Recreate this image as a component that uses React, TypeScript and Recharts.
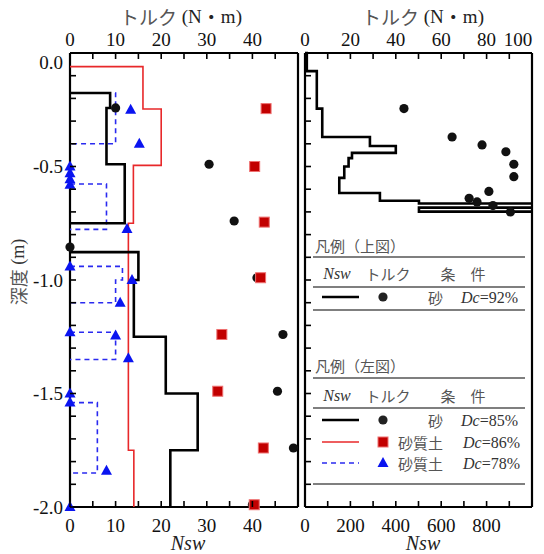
import React from 'react';
import { ComposedChart, Scatter, XAxis, YAxis } from 'recharts';

// 深度の目盛り
const depthTicks = [0, -0.1, -0.2, -0.3, -0.4, -0.5, -0.6, -0.7, -0.8, -0.9, -1, -1.1, -1.2, -1.3, -1.4, -1.5, -1.6, -1.7, -1.8, -1.9, -2];
const depthLabels = [0, -0.5, -1, -1.5, -2];

// 左図の目盛り (Nsw・トルク 共通)
const leftXTicks = [0, 5, 10, 15, 20, 25, 30, 35, 40, 45, 50];
const leftXLabels = [0, 10, 20, 30, 40];

// 右図の目盛り
const rightNswTicks = [0, 100, 200, 300, 400, 500, 600, 700, 800, 900, 1000];
const rightNswLabels = [0, 200, 400, 600, 800];
const rightTqTicks = [0, 10, 20, 30, 40, 50, 60, 70, 80, 90, 100];
const rightTqLabels = [0, 20, 40, 60, 80, 100];

// 左図 Nsw (階段状): 区間境界と値
const sandBounds = [0, -0.176, -0.242, -0.49, -0.75, -0.877, -1.0, -1.25, -1.5, -1.75, -2.0];
const sandNsw = [0, 8.8, 8, 12, 0, 15, 14, 21, 28, 22];

const siltBounds = [0, -0.06, -0.247, -0.495, -0.75, -1.75, -2.0];
const siltNsw = [0, 16, 20, 13.9, 12.8, 14];

const looseBounds = [0, -0.176, -0.4, -0.577, -0.777, -0.94, -1.0, -1.1, -1.23, -1.35, -1.54, -1.85, -2.0];
const looseNsw = [0, 10, 0, 8, 0, 11.5, 10, 0, 10, 0, 6, 0];

// 左図 トルク
const sandTqDepth = [-0.242, -0.49, -0.74, -0.855, -0.99, -1.24, -1.49, -1.74, -1.99];
const sandTq = [10, 30.5, 36, 0, 41, 46.7, 45.5, 49, 40];

const siltTqDepth = [-0.245, -0.5, -0.745, -0.99, -1.24, -1.49, -1.74, -1.99];
const siltTq = [43, 40.5, 42.6, 41.8, 33.3, 32.4, 42.4, 40.4];

const looseTqDepth = [-0.25, -0.4, -0.5, -0.53, -0.556, -0.58, -0.775, -0.94, -1.0, -1.1, -1.23, -1.245, -1.345, -1.5, -1.54, -1.84, -2.0];
const looseTq = [13.3, 15.2, 0, 0, 0, 0, 12.5, 0, 13.6, 11, 0, 10, 12.8, 0, 0, 8, 0];

// 右図 Nsw (砂 Dc=92%) と トルク
const denseBounds = [0, -0.08, -0.245, -0.37, -0.41, -0.44, -0.463, -0.5, -0.55, -0.617, -0.651, -0.663, -0.681, -0.699, -0.699];
const denseNsw = [8, 52, 76, 286, 400, 207, 192, 173, 151, 330, 502, 1200, 502, 1200];

const denseTqDepth = [-0.245, -0.37, -0.405, -0.435, -0.49, -0.545, -0.61, -0.64, -0.656, -0.672, -0.7];
const denseTq = [43.6, 64.8, 78, 88.5, 92, 92, 81, 72.3, 75.8, 82.8, 90.5];

type Pt = { x: number; y: number };

// 0 の区間で区切った階段の折れ線
const stepRuns = (bounds: number[], vals: number[]): Pt[][] => {
  const runs: Pt[][] = [];
  let cur: Pt[] | null = null;
  vals.forEach((v, i) => {
    if (v === 0) {
      if (cur) {
        cur.push({ x: 0, y: bounds[i] });
        runs.push(cur);
        cur = null;
      }
      return;
    }
    if (!cur) cur = [{ x: 0, y: bounds[i] }];
    cur.push({ x: v, y: bounds[i] }, { x: v, y: bounds[i + 1] });
  });
  if (cur) runs.push(cur);
  return runs;
};

const pts = (xs: number[], ys: number[]): Pt[] => xs.map((x, i) => ({ x, y: ys[i] }));

const FONT = '"Liberation Serif", "Times New Roman", "DejaVu Serif", serif';
const JP = '"Noto Sans CJK JP", sans-serif';
const serif = { fontFamily: FONT };
const jp = { fontFamily: JP };

const NoDot = () => <g />;
const Dot = (p: any) => <circle cx={p.cx} cy={p.cy} r={4.6} fill="#111" />;
const Sq = (p: any) => (
  <rect x={p.cx - 5} y={p.cy - 5} width={10} height={10} fill="#c20000" stroke="#ee7070" strokeWidth={1} />
);
const Tri = (p: any) => (
  <polygon points={`${p.cx},${p.cy - 6} ${p.cx - 5.5},${p.cy + 4} ${p.cx + 5.5},${p.cy + 4}`} fill="#0a14f0" />
);

const yTick = (side: 'left' | 'right', showLabels: boolean) => (props: any) => {
  const { x, y, payload } = props;
  const v = payload.value as number;
  const dir = side === 'left' ? 1 : -1;
  const lab = showLabels && depthLabels.some((d) => Math.abs(d - v) < 1e-6);
  return (
    <g>
      <line x1={x} x2={x + dir * 6} y1={y} y2={y} stroke="#000" strokeWidth={1.6} />
      {lab && (
        <text x={x - 7} y={v === 0 ? y + 9 : y} textAnchor="end" dominantBaseline="central" fontSize={19} style={serif} fill="#111">
          {v.toFixed(1)}
        </text>
      )}
    </g>
  );
};

const xTick = (side: 'top' | 'bottom', labels: number[], lastShift = 0) => (props: any) => {
  const { x, y, payload } = props;
  const v = payload.value as number;
  const dir = side === 'top' ? 1 : -1;
  const isLast = v === labels[labels.length - 1];
  return (
    <g>
      <line x1={x} x2={x} y1={y} y2={y + dir * 6} stroke="#000" strokeWidth={1.6} />
      {labels.includes(v) && (
        <text x={isLast ? x + lastShift : x} y={side === 'top' ? y - 14 : y + 18} textAnchor="middle" dominantBaseline="central" fontSize={19} style={serif} fill="#111">
          {v}
        </text>
      )}
    </g>
  );
};

const axisLine = { stroke: '#000', strokeWidth: 2.2 };

const LeftPanel = () => (
  <ComposedChart width={544} height={554} margin={{ top: 52, right: 245, bottom: 46, left: 69 }}>
    <XAxis xAxisId="nsw" type="number" dataKey="x" orientation="bottom" domain={[0, 50]} ticks={leftXTicks} interval={0}
      height={1} tickSize={0} tickMargin={0} tickLine={false} axisLine={axisLine} tick={xTick('bottom', leftXLabels)} />
    <XAxis xAxisId="tq" type="number" dataKey="x" orientation="top" domain={[0, 50]} ticks={leftXTicks} interval={0}
      height={1} tickSize={0} tickMargin={0} tickLine={false} axisLine={axisLine} tick={xTick('top', leftXLabels)} />
    <YAxis yAxisId="l" type="number" dataKey="y" orientation="left" domain={[-2, 0]} ticks={depthTicks} interval={0}
      width={1} tickSize={0} tickMargin={0} tickLine={false} axisLine={axisLine} tick={yTick('left', true)} />
    <YAxis yAxisId="r" type="number" dataKey="y" orientation="right" domain={[-2, 0]} ticks={depthTicks} interval={0}
      width={1} tickSize={0} tickMargin={0} tickLine={false} axisLine={axisLine} tick={yTick('right', false)} />
    {stepRuns(looseBounds, looseNsw).map((r, i) => (
      <Scatter key={`b${i}`} data={r} xAxisId="nsw" yAxisId="l" shape={NoDot} isAnimationActive={false}
        line={{ stroke: '#2a2af0', strokeWidth: 1.6, strokeDasharray: '5 4' }} />
    ))}
    {stepRuns(siltBounds, siltNsw).map((r, i) => (
      <Scatter key={`r${i}`} data={r} xAxisId="nsw" yAxisId="l" shape={NoDot} isAnimationActive={false}
        line={{ stroke: '#e8282a', strokeWidth: 1.6 }} />
    ))}
    {stepRuns(sandBounds, sandNsw).map((r, i) => (
      <Scatter key={`k${i}`} data={r} xAxisId="nsw" yAxisId="l" shape={NoDot} isAnimationActive={false}
        line={{ stroke: '#000', strokeWidth: 2.6 }} />
    ))}
    <Scatter data={pts(sandTq, sandTqDepth)} xAxisId="tq" yAxisId="l" shape={Dot} isAnimationActive={false} />
    <Scatter data={pts(siltTq, siltTqDepth)} xAxisId="tq" yAxisId="l" shape={Sq} isAnimationActive={false} />
    <Scatter data={pts(looseTq, looseTqDepth)} xAxisId="tq" yAxisId="l" shape={Tri} isAnimationActive={false} />
  </ComposedChart>
);

const RightPanel = () => (
  <ComposedChart width={544} height={554} margin={{ top: 52, right: 11, bottom: 46, left: 304 }}>
    <XAxis xAxisId="nsw" type="number" dataKey="x" orientation="bottom" domain={[0, 1000]} allowDataOverflow ticks={rightNswTicks} interval={0}
      height={1} tickSize={0} tickMargin={0} tickLine={false} axisLine={axisLine} tick={xTick('bottom', rightNswLabels)} />
    <XAxis xAxisId="tq" type="number" dataKey="x" orientation="top" domain={[0, 100]} ticks={rightTqTicks} interval={0}
      height={1} tickSize={0} tickMargin={0} tickLine={false} axisLine={axisLine} tick={xTick('top', rightTqLabels, -14)} />
    <YAxis yAxisId="l" type="number" dataKey="y" orientation="left" domain={[-2, 0]} ticks={depthTicks} interval={0}
      width={1} tickSize={0} tickMargin={0} tickLine={false} axisLine={axisLine} tick={yTick('left', false)} />
    <YAxis yAxisId="r" type="number" dataKey="y" orientation="right" domain={[-2, 0]} ticks={depthTicks} interval={0}
      width={1} tickSize={0} tickMargin={0} tickLine={false} axisLine={axisLine} tick={yTick('right', false)} />
    {stepRuns(denseBounds, denseNsw).map((r, i) => (
      <Scatter key={`d${i}`} data={r} xAxisId="nsw" yAxisId="l" shape={NoDot} isAnimationActive={false}
        line={{ stroke: '#000', strokeWidth: 2.6 }} />
    ))}
    <Scatter data={pts(denseTq, denseTqDepth)} xAxisId="tq" yAxisId="l" shape={Dot} isAnimationActive={false} />
  </ComposedChart>
);

const rule = '#555';

const Title = ({ x }: { x: number }) => (
  <text x={x} y={16} textAnchor="middle" dominantBaseline="central" fontSize={19} fill="#222" style={serif}>
    <tspan style={jp} fill="#555">トルク</tspan>
    <tspan style={serif}> (N</tspan>
    <tspan style={jp}>・</tspan>
    <tspan style={serif}>m)</tspan>
  </text>
);

const Row = ({ y, soil, dc, end }: { y: number; soil: string; dc: string; end: number }) => (
  <>
    <text x={443} y={y} textAnchor="end" dominantBaseline="central" fontSize={15} style={jp} fill="#555">{soil}</text>
    <text x={end} y={y} textAnchor="end" dominantBaseline="central" fontSize={16} style={serif} fill="#333">
      <tspan fontStyle="italic">Dc</tspan>={dc}
    </text>
  </>
);

const Header = ({ y }: { y: number }) => (
  <>
    <text x={337} y={y} textAnchor="middle" dominantBaseline="central" fontSize={16} fontStyle="italic" style={serif} fill="#333">Nsw</text>
    <text x={388} y={y} textAnchor="middle" dominantBaseline="central" fontSize={15} style={jp} fill="#555">トルク</text>
    <text x={463} y={y} textAnchor="middle" dominantBaseline="central" fontSize={15} style={jp} fill="#555">条　件</text>
  </>
);

const Overlay = () => (
  <svg width={544} height={554} style={{ position: 'absolute', left: 0, top: 0, pointerEvents: 'none' }}>
    {/* 軸タイトル */}
    <Title x={181} />
    <Title x={423} />
    <text x={188} y={543} textAnchor="middle" dominantBaseline="central" fontSize={20} fontStyle="italic" style={serif} fill="#222">Nsw</text>
    <text x={423} y={543} textAnchor="middle" dominantBaseline="central" fontSize={20} fontStyle="italic" style={serif} fill="#222">Nsw</text>
    <text transform="translate(18,272) rotate(-90)" textAnchor="middle" dominantBaseline="central" fontSize={18} fill="#333" style={serif}>
      <tspan style={jp} fill="#555">深度</tspan>
      <tspan style={serif}> (m)</tspan>
    </text>

    {/* 凡例（上図） */}
    <text x={315} y={245} dominantBaseline="central" fontSize={15} style={jp} fill="#555">凡例（上図）</text>
    <line x1={313} x2={525} y1={257} y2={257} stroke={rule} strokeWidth={1.4} />
    <Header y={273} />
    <line x1={313} x2={525} y1={287} y2={287} stroke={rule} strokeWidth={1.4} />
    <line x1={322} x2={359} y1={297} y2={297} stroke="#000" strokeWidth={2.6} />
    <circle cx={383} cy={297} r={4.6} fill="#222" />
    <Row y={297} soil="砂" dc="92%" end={518} />
    <line x1={313} x2={525} y1={310} y2={310} stroke={rule} strokeWidth={1.4} />

    {/* 凡例（左図） */}
    <text x={315} y={365} dominantBaseline="central" fontSize={15} style={jp} fill="#555">凡例（左図）</text>
    <line x1={313} x2={525} y1={378} y2={378} stroke={rule} strokeWidth={1.4} />
    <Header y={395} />
    <line x1={313} x2={525} y1={408} y2={408} stroke={rule} strokeWidth={1.4} />

    <line x1={322} x2={359} y1={420} y2={420} stroke="#000" strokeWidth={2.6} />
    <circle cx={383} cy={420} r={4.6} fill="#222" />
    <Row y={420} soil="砂" dc="85%" end={518} />

    <line x1={322} x2={359} y1={442} y2={442} stroke="#e8282a" strokeWidth={1.6} />
    <rect x={378} y={437} width={10} height={10} fill="#c20000" stroke="#ee7070" strokeWidth={1} />
    <Row y={442} soil="砂質土" dc="86%" end={520} />

    <line x1={322} x2={359} y1={463} y2={463} stroke="#2a2af0" strokeWidth={1.6} strokeDasharray="5 4" />
    <polygon points="383,457 377.5,467 388.5,467" fill="#0a14f0" />
    <Row y={463} soil="砂質土" dc="78%" end={520} />
    <line x1={313} x2={525} y1={484} y2={484} stroke={rule} strokeWidth={1.4} />
  </svg>
);

export default function App() {
  return (
    <div style={{ position: 'absolute', left: 0, top: 0, width: 544, height: 554, background: '#fff', fontFamily: FONT }}>
      <div style={{ position: 'absolute', left: 0, top: 0 }}>
        <LeftPanel />
      </div>
      <div style={{ position: 'absolute', left: 0, top: 0 }}>
        <RightPanel />
      </div>
      <Overlay />
    </div>
  );
}
